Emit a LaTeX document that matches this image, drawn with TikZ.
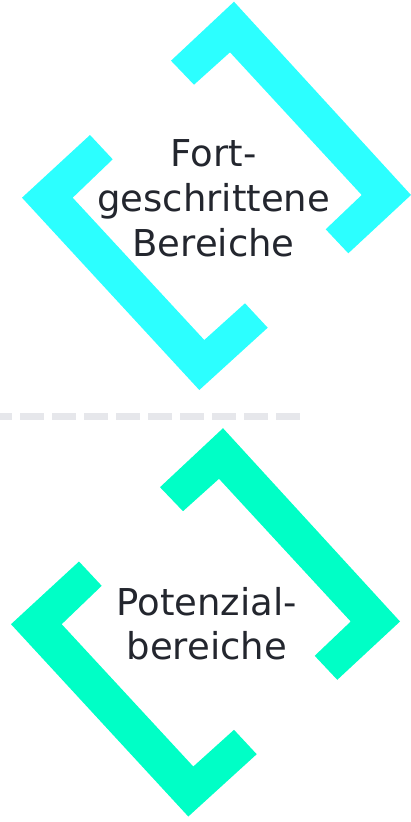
\documentclass[tikz,border=0pt]{standalone}
\usepackage{fontspec}
\setmainfont{DejaVu Sans}
\definecolor{tuerkis}{HTML}{2CFFFF}
\definecolor{mint}{HTML}{00FFC6}
\definecolor{schrift}{HTML}{23262E}
\definecolor{trenner}{HTML}{E6E7EB}
\begin{document}
\begin{tikzpicture} [
   x=1pt, y=-1pt,
   beschriftung/.style={text=schrift, align=center, font=\fontsize{37}{44.8}\selectfont},
   trennlinie/.style={draw=trenner, line width=7.3pt, dash pattern=on 24pt off 8pt, dash phase=12pt},
   pics/ecken/.style={code={
      \fill (171,60.7) -- (234,1.7) -- (411,195) -- (348.3,253.3) -- (325.7,229.3)
            -- (361.7,195) -- (230,52.3) -- (194,84.7) -- cycle;
      \fill (90,135) -- (22,197.7) -- (199.3,390) -- (267.7,327.7) -- (245,303.3)
            -- (204.3,340) -- (72.7,197.7) -- (112.7,159.3) -- cycle;
   }}
]
   \useasboundingbox (0,0) rectangle (411,822);
   % oberer Bereich
   \pic [fill=tuerkis] at (0,0) {ecken};
   \node (oben) [beschriftung] at (213.6,198) {Fort-\\geschrittene\\Bereiche};
   % Trenner
   \coordinate (trenn-a) at (0,416.7);
   \coordinate (trenn-b) at (300,416.7);
   \path [trennlinie] (trenn-a) -- (trenn-b);
   % unterer Bereich
   \pic [fill=mint] at (-11,426.5) {ecken};
   \node (unten) [beschriftung] at (206.7,623.6) {Potenzial-\\bereiche};
\end{tikzpicture}
\end{document}
